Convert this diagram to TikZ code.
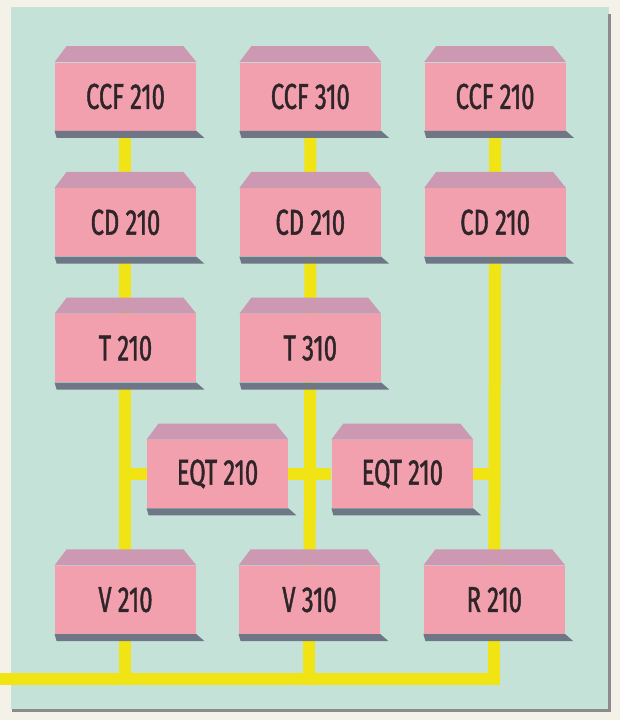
\documentclass[tikz,border=0pt]{standalone}
\usepackage{fontspec}
\newfontfamily\boxfont[FakeStretch=0.66,FakeBold=1.2]{Fira Sans}
\usepackage{xcolor}
\definecolor{netbg}{HTML}{C4E2D8}
\definecolor{netpaper}{HTML}{F4F2E8}
\definecolor{netedge}{HTML}{8C8A8C}
\definecolor{netfront}{HTML}{F2A0AE}
\definecolor{nettop}{HTML}{CC98B2}
\definecolor{netshadow}{HTML}{6F7786}
\definecolor{netbus}{HTML}{F0E414}
\definecolor{nettext}{HTML}{2F2529}
\usepackage{tikz}
\usetikzlibrary{positioning,calc,backgrounds}
\tikzset{
  unitbox/.style={fill=netfront,minimum width=70.5pt,minimum height=34pt,inner sep=0pt,text=nettext,font=\boxfont\fontsize{18}{20}\selectfont},
  unittop/.style={fill=nettop},
  unitshadow/.style={fill=netshadow},
  busline/.style={draw=netbus,line width=6pt},
}

\begin{document}
\begin{tikzpicture}[x=0.5pt,y=-0.5pt,node distance=28.5pt and 21.5pt]
\useasboundingbox (0,0) rectangle (620,720);
% units, row by row
\node[unitbox] (ccfa) at (125.5,96.5) {CCF 210};
\node[unitbox, right=of ccfa] (ccfb) {CCF 310};
\node[unitbox, right=of ccfb] (ccfc) {CCF 210};
\node[unitbox, below=of ccfa] (cda) {CD 210};
\node[unitbox, below=of ccfb] (cdb) {CD 210};
\node[unitbox, below=of ccfc] (cdc) {CD 210};
\node[unitbox, below=of cda] (ta) {T 210};
\node[unitbox, below=of cdb] (tb) {T 310};
\node[unitbox, below=of ta, xshift=46pt] (eqa) {EQT 210};
\node[unitbox, below=of tb, xshift=46pt] (eqb) {EQT 210};
\node[unitbox, below=of eqa, xshift=-46pt] (va) {V 210};
\node[unitbox, below=of eqa, xshift=46pt] (vb) {V 310};
\node[unitbox, below=of eqb, xshift=46pt] (rc) {R 210};
\coordinate (busin) at (0,679);

% lid and shadow of each unit
\foreach \u in {ccfa,ccfb,ccfc,cda,cdb,cdc,ta,tb,eqa,eqb,va,vb,rc}{
  \fill[unittop] (\u.north west) -- ++(12,-16) -- ($(\u.north east)+(-13,-16)$) -- (\u.north east) -- cycle;
  \fill[unitshadow] (\u.south west) -- (\u.south east) -- ++(8,7) -- ($(\u.south west)+(2,7)$) -- cycle;
}

\begin{scope}[on background layer]
\fill[netpaper] (0,0) rectangle (620,720);
\fill[netbg] (11,7) rectangle (609,709);
\draw[netedge,line width=1.5pt] (610,14) -- (610,710) -- (12,710);
% yellow links
\draw[busline] (ccfa) -- (cda) -- (ta) -- (va);
\draw[busline] (ccfb) -- (cdb) -- (tb) -- (vb);
\draw[busline] (ccfc) -- (cdc) -- (rc);
\draw[busline] (ta |- eqa) -- (eqa);
\draw[busline] (eqa) -- (eqb);
\draw[busline] (eqb) -- (eqb -| rc);
\draw[busline] (va) -- (va |- busin);
\draw[busline] (vb) -- (vb |- busin);
\draw[busline] (busin) -- (busin -| rc) -- (rc);
\end{scope}
\end{tikzpicture}
\end{document}
